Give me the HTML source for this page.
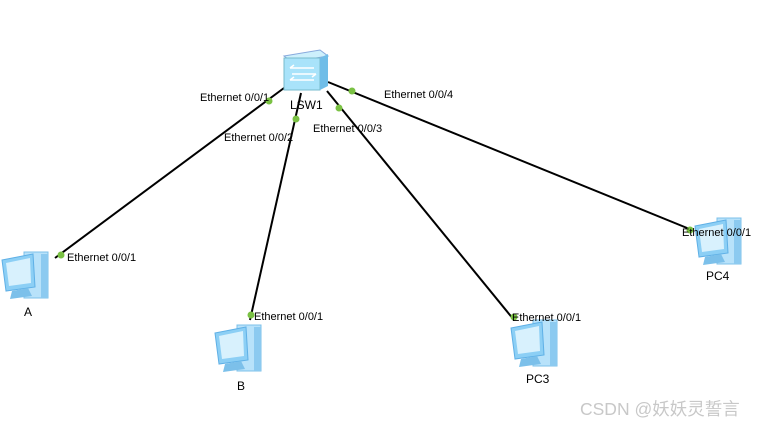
<!DOCTYPE html>
<html><head><style>
body{margin:0;background:#fff;}
svg{display:block;font-family:"Liberation Sans",Arial,sans-serif;}
</style></head><body>
<svg width="766" height="427" viewBox="0 0 766 427">
<defs>
<g id="pc">
 <rect x="24" y="2" width="24" height="46" fill="#b8e2fa" stroke="#7cc0ea"/>
 <rect x="41" y="4" width="7" height="44" fill="#8ccaf0"/>
 <polygon points="2,10 33,4 35,37 6,41" fill="#8ccff5" stroke="#5fb0e6"/>
 <polygon points="6,13 30,8 31,33 9,36" fill="#d8f1fd"/>
 <polygon points="12,41 28,38 32,46 10,49" fill="#7cc0ea"/>
</g>
</defs>
<g stroke="#000" stroke-width="2">
<line x1="55" y1="258" x2="284" y2="88"/>
<line x1="250" y1="320" x2="301" y2="93"/>
<line x1="514" y1="320" x2="327" y2="91"/>
<line x1="692" y1="230" x2="328" y2="82"/>
</g>
<polygon points="284,56 320,50 328,56 292,62" fill="#cdf0fc" stroke="#8ad"/>
<rect x="284" y="58" width="36" height="32" fill="#a9e3fa" stroke="#7bc"/>
<polygon points="320,58 328,54 328,86 320,90" fill="#6fbde8"/>
<g stroke="#fff" stroke-width="1.5" fill="none">
<path d="M290,68 H314 M290,68 l4,-3 M292,74 H316 M316,74 l-4,3 M290,80 H314 M290,80 l4,-3"/>
</g>
<use href="#pc" x="0" y="250"/>
<use href="#pc" x="213" y="323"/>
<use href="#pc" x="509" y="318"/>
<use href="#pc" x="693" y="216"/>
<g fill="#7ac143">
<circle cx="269" cy="101" r="3.5"/><circle cx="296" cy="119" r="3.5"/>
<circle cx="339" cy="108" r="3.5"/><circle cx="352" cy="91" r="3.5"/>
<circle cx="61" cy="255" r="3.5"/><circle cx="251" cy="315" r="3.5"/>
<circle cx="514" cy="317" r="3.5"/><circle cx="690" cy="230" r="3.5"/>
</g>
<g font-size="11" fill="#000">
<text x="200" y="101">Ethernet 0/0/1</text>
<text x="224" y="141">Ethernet 0/0/2</text>
<text x="313" y="132">Ethernet 0/0/3</text>
<text x="384" y="98">Ethernet 0/0/4</text>
<text x="67" y="261">Ethernet 0/0/1</text>
<text x="254" y="320">Ethernet 0/0/1</text>
<text x="512" y="321">Ethernet 0/0/1</text>
<text x="682" y="236">Ethernet 0/0/1</text>
<text x="290" y="109" font-size="12">LSW1</text>
<text x="24" y="316" font-size="12">A</text>
<text x="237" y="390" font-size="12">B</text>
<text x="526" y="383" font-size="12">PC3</text>
<text x="706" y="280" font-size="12">PC4</text>
</g>
<text x="580" y="415" font-size="17.5" fill="#c8c8c8" font-family="Liberation Sans,'Noto Sans CJK SC',sans-serif">CSDN @妖妖灵誓言</text>
</svg>
</body></html>
